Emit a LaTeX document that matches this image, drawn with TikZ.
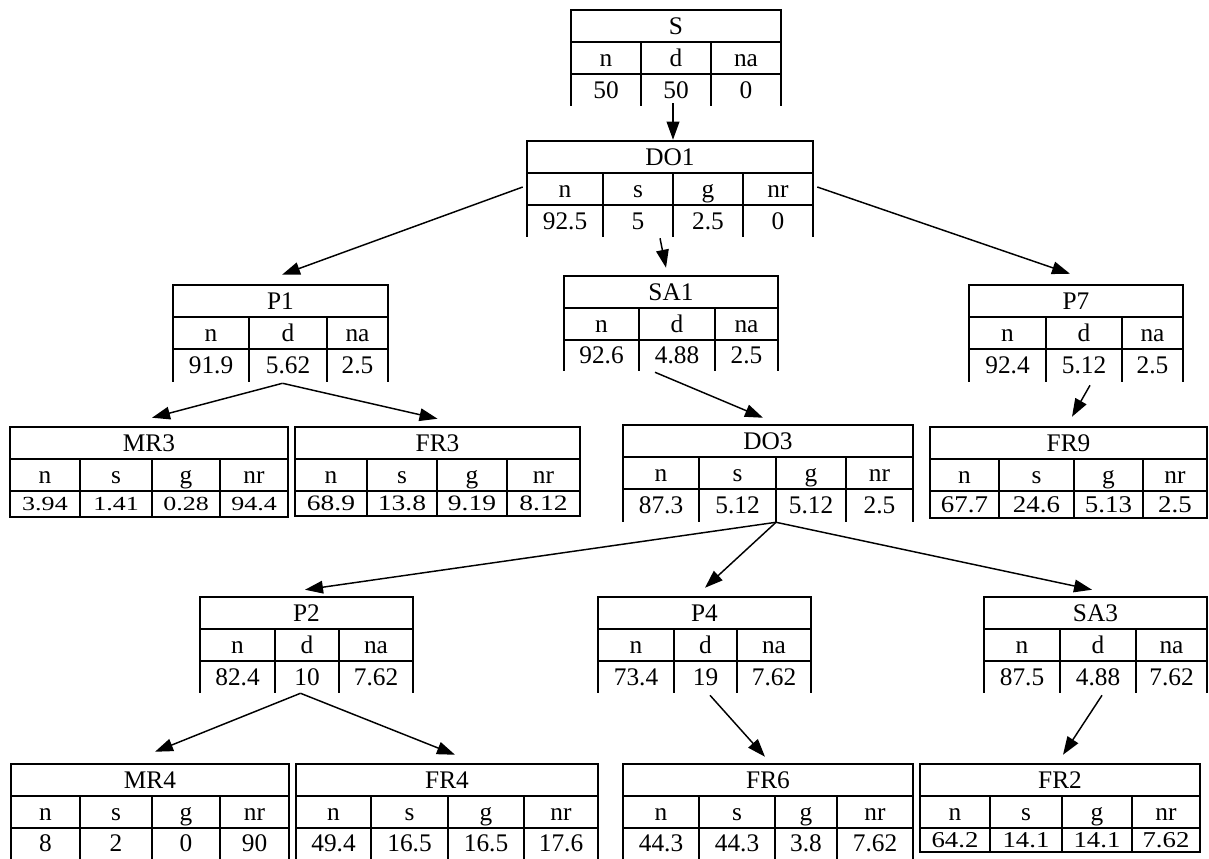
\documentclass[tikz,border=0pt]{standalone}
\usepackage{graphicx}
\usepackage{fontspec}
\setmainfont{Liberation Serif}
\usetikzlibrary{fit,arrows.meta}
\tikzset{
  tl/.style={line width=1.3pt, line cap=rect},
  txt/.style={inner sep=0pt, font=\fontsize{19pt}{21pt}\selectfont},
  arr/.style={line width=1.1pt, -{Triangle[length=13.5pt,width=9.5pt]}},
}
% #1 name, #2 x-left, #3 x-right, #4 y-top, #5 y-bottom, #6 title,
% #7 value font size (pt), #8 value x-stretch, #9 cells xa/xb/header/value
\newcommand\tbl[9]{%
  \node[fit={(#2,#4) (#3,#5)}, inner sep=0pt] (#1) {};
  \draw[tl] (#2,#5) -- (#2,#4) -- (#3,#4) -- (#3,#5);
  \draw[tl] (#2,#4+32) -- (#3,#4+32) (#2,#4+64) -- (#3,#4+64);
  \node[txt, anchor=base] (#1-t) at ({(#2+#3)/2},{#4+16+8.6}) {#6};
  \foreach \xa/\xb/\hd/\vl [count=\i] in {#9} {
    \ifnum\i>1 \draw[tl] (\xa,#4+32) -- (\xa,#5); \fi
    \node[txt, anchor=base] (#1-h\i) at ({(\xa+\xb)/2},{#4+48+8.6}) {\hd};
    \node[txt, anchor=base, font=\fontsize{#7pt}{#7pt}\selectfont] (#1-v\i) at ({(\xa+\xb)/2},{(#4+64+#5)/2+0.4533*#7}) {\scalebox{#8}[1]{\vl}};
  }%
}
\begin{document}
\begin{tikzpicture}[x=0.75pt, y=-0.75pt]
\useasboundingbox (0,0) rectangle (1209,858);
\fill[white] (0,0) rectangle (1209,858);

\tbl{S}{571}{781}{10}{105}{S}{19}{1}{571/641/n/50, 641/711/d/50, 711/781/na/0}
\tbl{DO1}{527}{813}{141}{236}{DO1}{19}{1}{527/603/n/92.5, 603/673/s/5, 673/743/g/2.5, 743/813/nr/0}
\tbl{P1}{173}{388}{285}{381}{P1}{19}{1}{173/249/n/91.9, 249/327/d/5.62, 327/388/na/2.5}
\tbl{SA1}{564}{778}{276}{370}{SA1}{19}{1}{564/639/n/92.6, 639/715/d/4.88, 715/778/na/2.5}
\tbl{P7}{969}{1183}{285}{381}{P7}{19}{1}{969/1046/n/92.4, 1046/1122/d/5.12, 1122/1183/na/2.5}
\tbl{MR3}{10}{288}{427}{517}{MR3}{15}{1.3}{10/80/n/3.94, 80/152/s/1.41, 152/220/g/0.28, 220/288/nr/94.4}
\tbl{FR3}{295}{580}{427}{516}{FR3}{16.5}{1.25}{295/367/n/68.9, 367/437/s/13.8, 437/507/g/9.19, 507/580/nr/8.12}
\tbl{DO3}{623}{913}{425}{521}{DO3}{19}{1}{623/699/n/87.3, 699/776/s/5.12, 776/846/g/5.12, 846/913/nr/2.5}
\tbl{FR9}{930}{1207}{427}{518}{FR9}{18}{1.12}{930/999/n/67.7, 999/1074/s/24.6, 1074/1143/g/5.13, 1143/1207/nr/2.5}
\tbl{P2}{200}{413}{597}{692}{P2}{19}{1}{200/275/n/82.4, 275/339/d/10, 339/413/na/7.62}
\tbl{P4}{598}{811}{597}{692}{P4}{19}{1}{598/674/n/73.4, 674/737/d/19, 737/811/na/7.62}
\tbl{SA3}{984}{1207}{597}{692}{SA3}{19}{1}{984/1060/n/87.5, 1060/1136/d/4.88, 1136/1207/na/7.62}
\tbl{MR4}{11}{289}{764}{858}{MR4}{19}{1}{11/80/n/8, 80/152/s/2, 152/220/g/0, 220/289/nr/90}
\tbl{FR4}{296}{598}{764}{858}{FR4}{19}{1}{296/371/n/49.4, 371/448/s/16.5, 448/524/g/16.5, 524/598/nr/17.6}
\tbl{FR6}{623}{913}{764}{858}{FR6}{19}{1}{623/699/n/44.3, 699/775/s/44.3, 775/837/g/3.8, 837/913/nr/7.62}
\tbl{FR2}{920}{1200}{764}{852}{FR2}{17}{1.18}{920/990/n/64.2, 990/1062/s/14.1, 1062/1132/g/14.1, 1132/1200/nr/7.62}

\draw[tl] (MR3.south west) -- (MR3.south east);
\draw[tl] (FR3.south west) -- (FR3.south east);
\draw[tl] (FR9.south west) -- (FR9.south east);
\draw[tl] (FR2.south west) -- (FR2.south east);

\draw[arr] ([shift={(-3,-2)}]S.south) -- ([shift={(3,-1)}]DO1.north);
\draw[arr] ([shift={(-4,-1.5)}]DO1.west) -- ([shift={(1.5,-10)}]P1.north);
\draw[arr] ([shift={(-10,2)}]DO1.south) -- ([shift={(-5,-8)}]SA1.north);
\draw[arr] ([shift={(4,-1.5)}]DO1.east) -- ([shift={(-6,-11)}]P7.north);
\draw[arr] ([shift={(2,2)}]P1.south) -- ([shift={(3,-9)}]MR3.north);
\draw[arr] ([shift={(2,2)}]P1.south) -- ([shift={(0,-8)}]FR3.north);
\draw[arr] ([shift={(-16,2)}]SA1.south) -- ([shift={(-5,-7)}]DO3.north);
\draw[arr] ([shift={(14,4)}]P7.south) -- ([shift={(3.5,-10)}]FR9.north);
\draw[arr] ([shift={(8,1)}]DO3.south) -- ([shift={(-1.5,-7)}]P2.north);
\draw[arr] ([shift={(8,1)}]DO3.south) -- ([shift={(0.5,-9)}]P4.north);
\draw[arr] ([shift={(8,1)}]DO3.south) -- ([shift={(-3.5,-7)}]SA3.north);
\draw[arr] ([shift={(-6,1)}]P2.south) -- ([shift={(5,-12)}]MR4.north);
\draw[arr] ([shift={(-6,1)}]P2.south) -- ([shift={(8,-9)}]FR4.north);
\draw[arr] ([shift={(5.5,3)}]P4.south) -- ([shift={(-3,-7)}]FR6.north);
\draw[arr] ([shift={(6.5,3)}]SA3.south) -- ([shift={(3,-9)}]FR2.north);
\end{tikzpicture}
\end{document}
